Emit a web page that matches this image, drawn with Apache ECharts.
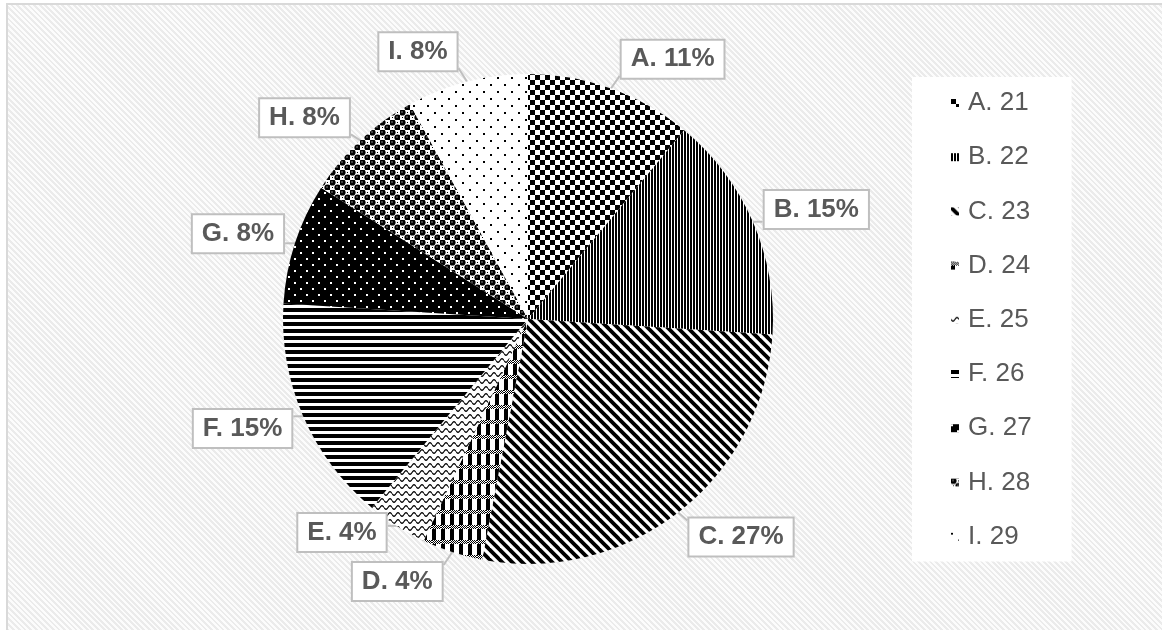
<!DOCTYPE html>
<html>
<head>
<meta charset="utf-8">
<script src="https://cdn.jsdelivr.net/npm/echarts@6/dist/echarts.min.js"></script>
<style>
  html, body { margin: 0; padding: 0; background: #fff; width: 1162px; height: 630px; overflow: hidden; }
  #frame {
    position: absolute; left: 6px; top: 3px; width: 1170px; height: 640px;
    border: 2px solid #d9d9d9;
    background: repeating-linear-gradient(45deg, #fcfcfc 0 2px, #ebebeb 2px 4px);
  }
  #chart { position: absolute; left: 0; top: 0; width: 1162px; height: 630px; }
</style>
</head>
<body>
<div id="frame"></div>
<div id="chart"></div>
<script>
// Categories (legend names) and their shares in percent
const categories = ['A. 21', 'B. 22', 'C. 23', 'D. 24', 'E. 25', 'F. 26', 'G. 27', 'H. 28', 'I. 29'];
const shares = [11, 15, 27, 4, 4, 15, 8, 8, 8];

// Small repeating canvas tiles used as black & white fill patterns
function tile(w, h, draw, bg) {
  const c = document.createElement('canvas');
  c.width = w; c.height = h;
  const g = c.getContext('2d');
  g.fillStyle = bg || '#fff';
  g.fillRect(0, 0, w, h);
  g.fillStyle = '#000';
  g.strokeStyle = '#000';
  draw(g, w, h);
  return { image: c, repeat: 'repeat' };
}

const patterns = [
  // A: checkerboard
  tile(10, 10, g => { g.fillRect(0, 0, 5, 5); g.fillRect(5, 5, 5, 5); }),
  // B: narrow vertical lines
  tile(3, 1, g => { g.fillRect(0, 0, 2, 1); }),
  // C: wide downward diagonal
  tile(10, 10, g => {
    g.lineWidth = 3.8;
    for (let k = -1; k <= 1; k++) {
      g.beginPath(); g.moveTo(-3, k * 10 - 3); g.lineTo(13, k * 10 + 13); g.stroke();
    }
  }),
  // D: vertical bars crossed by dotted rows
  tile(9, 15, g => {
    g.fillRect(0, 0, 4, 15);
    g.fillStyle = '#fff'; g.fillRect(0, 0, 9, 4);
    g.fillStyle = '#000';
    for (let y = 0; y < 4; y++) for (let x = 0; x < 9; x++) if ((x + y) % 2 === 0) g.fillRect(x, y, 1, 1);
  }),
  // E: wave
  tile(8, 7, g => {
    g.lineWidth = 1.2; g.beginPath();
    for (let x = 0; x <= 8; x += 0.5) {
      const y = 3.5 + 1.8 * Math.sin(2 * Math.PI * x / 8);
      if (x === 0) g.moveTo(x, y); else g.lineTo(x, y);
    }
    g.stroke();
  }),
  // F: wide horizontal lines
  tile(1, 7, g => { g.fillRect(0, 0, 1, 4); }),
  // G: white dots on black
  tile(12, 12, g => { g.fillStyle = '#fff'; g.fillRect(0, 0, 2, 2); g.fillRect(6, 6, 2, 2); }, '#000'),
  // H: shingled spheres
  tile(10, 10, g => {
    [[2.5, 2.5], [7.5, 7.5]].forEach(([cx, cy]) => {
      g.fillStyle = '#000'; g.beginPath(); g.arc(cx, cy, 3.1, 0, Math.PI * 2); g.fill();
      g.fillStyle = '#fff'; g.fillRect(cx - 1, cy - 1, 1, 1);
    });
    g.fillStyle = '#000';
    g.fillRect(7, 2, 1, 1); g.fillRect(2, 7, 1, 1);
  }),
  // I: sparse black dots
  tile(14, 14, g => { g.fillRect(0, 0, 2, 2); g.fillRect(7, 7, 2, 2); })
];

const pieData = categories.map((name, i) => ({
  name: name,
  value: shares[i],
  itemStyle: { color: patterns[i] }
}));

// Callout placement: each box sits beside its slice edge point, pushed
// outward horizontally and slightly along the radius; boxes on the same
// side are kept from overlapping.
let placed = [];
function placeCallout(params) {
  if (params.dataIndex === 0) placed = [];
  const pts = params.labelLinePoints;
  const r = params.labelRect;
  if (!pts) return {};
  const tip = pts[0];
  let ux = pts[1][0] - tip[0], uy = pts[1][1] - tip[1];
  const len = Math.hypot(ux, uy) || 1;
  ux /= len; uy /= len;
  const side = ux >= 0 ? 1 : -1;
  const hw = r.width / 2, hh = r.height / 2;
  let cx = tip[0] + side * (hw + 8) + ux * 2;
  let cy = tip[1] + uy * 31;
  for (const p of placed) {
    if (p.side === side && Math.abs(p.cx - cx) < p.hw + hw && Math.abs(p.cy - cy) < p.hh + hh + 4) {
      cy = uy > 0 ? p.cy - (p.hh + hh + 8) : p.cy + (p.hh + hh + 8);
    }
  }
  placed.push({ cx, cy, hw, hh, side });
  const left = cx - hw, right = cx + hw, top = cy - hh, bottom = cy + hh;
  const ex = Math.min(Math.max(tip[0], left), right);
  const ey = Math.min(Math.max(tip[1], top + 4), bottom - 4);
  return {
    dx: cx - (r.x + hw),
    dy: cy - (r.y + hh),
    labelLinePoints: [tip, [ex, ey], [ex, ey]]
  };
}

const chart = echarts.init(document.getElementById('chart'), null, { renderer: 'canvas' });

chart.setOption({
  animation: false,
  backgroundColor: 'transparent',
  legend: {
    orient: 'vertical',
    left: 912,
    top: 77,
    backgroundColor: '#ffffff',
    padding: [13, 40, 12, 39],
    itemWidth: 8,
    itemHeight: 8,
    itemGap: 28.2,
    icon: 'rect',
    selectedMode: false,
    textStyle: { fontFamily: 'Liberation Sans', fontSize: 26, color: '#595959', padding: [0, 0, 0, 4] },
    data: categories
  },
  series: [{
    type: 'pie',
    center: [528, 319],
    radius: 245,
    startAngle: 90,
    clockwise: true,
    avoidLabelOverlap: false,
    emphasis: { disabled: true },
    itemStyle: { borderWidth: 0 },
    label: {
      show: true,
      position: 'outside',
      formatter: p => p.name.split('.')[0] + '. ' + Math.round(p.percent) + '%',
      fontFamily: 'Liberation Sans',
      fontWeight: 'bold',
      fontSize: 26,
      color: '#595959',
      backgroundColor: '#ffffff',
      borderColor: '#bfbfbf',
      borderWidth: 2,
      padding: [6, 9, 5, 9]
    },
    labelLine: {
      show: true,
      length: 20,
      length2: 4,
      lineStyle: { color: '#bfbfbf', width: 2 }
    },
    labelLayout: placeCallout,
    data: pieData
  }]
});
</script>
</body>
</html>
